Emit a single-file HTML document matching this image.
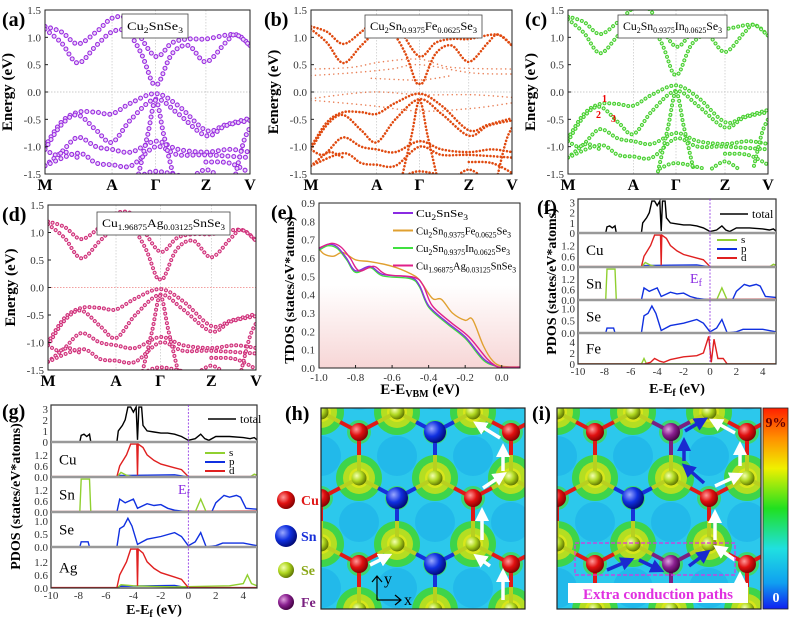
<!DOCTYPE html>
<html><head><meta charset="utf-8"><style>
html,body{margin:0;padding:0;background:#fff;width:800px;height:631px;overflow:hidden;}
svg{display:block;font-family:"Liberation Serif",serif;}
</style></head><body>
<svg id="s" width="800" height="631" viewBox="0 0 800 631" xmlns="http://www.w3.org/2000/svg"></svg>
<script>
let o='';
function cr(p){let d=`M${p[0][0].toFixed(1)},${p[0][1].toFixed(1)}`;for(let i=0;i<p.length-1;i++){const a=p[i-1]||p[i],b=p[i],c=p[i+1],e=p[i+2]||c;d+=`C${(b[0]+(c[0]-a[0])/6).toFixed(1)},${(b[1]+(c[1]-a[1])/6).toFixed(1)} ${(c[0]-(e[0]-b[0])/6).toFixed(1)},${(c[1]-(e[1]-b[1])/6).toFixed(1)} ${c[0].toFixed(1)},${c[1].toFixed(1)}`;}return d;}
function pl(p){return 'M'+p.map(q=>q[0].toFixed(1)+','+q[1].toFixed(1)).join('L');}
let cid=0;
const bandsA=[
[[0,1.2],[0.08,1.1],[0.16,0.88],[0.25,1.1],[0.327,1.35],[0.4,1.35],[0.45,1.1],[0.54,0.65],[0.62,0.9],[0.7,0.97],[0.785,0.97],[0.9,1.05],[0.95,1.02],[1,0.85]],
[[0,1.15],[0.08,0.9],[0.16,0.53],[0.25,0.85],[0.327,1.1],[0.4,1.1],[0.47,0.7],[0.52,0.2],[0.54,0.15],[0.56,0.2],[0.62,0.7],[0.7,0.85],[0.785,0.55],[0.88,0.9],[0.93,1.05],[1,0.85]],
[[0,-1.0],[0.08,-0.55],[0.16,-0.37],[0.25,-0.37],[0.327,-0.4],[0.42,-0.2],[0.54,-0.03],[0.65,-0.25],[0.785,-0.7],[0.88,-0.6],[1,-0.48]],
[[0,-1.05],[0.08,-0.6],[0.16,-0.42],[0.25,-0.7],[0.327,-0.92],[0.42,-0.5],[0.54,-0.13],[0.65,-0.4],[0.785,-0.8],[0.88,-0.62],[1,-0.52]],
[[0,-1.35],[0.08,-1.1],[0.16,-0.83],[0.25,-1.0],[0.327,-1.05],[0.42,-1.1],[0.54,-0.9],[0.65,-1.05],[0.785,-1.1],[0.9,-1.05],[1,-1.1]],
[[0,-1.35],[0.16,-1.12],[0.25,-1.3],[0.327,-1.33],[0.42,-1.35],[0.54,-1.0],[0.65,-1.15],[0.785,-1.15],[1,-1.2]],
[[0.45,-1.6],[0.5,-0.8],[0.54,-0.15],[0.58,-0.8],[0.63,-1.6]],
[[0.72,-1.55],[0.785,-1.42],[0.85,-1.55]],
[[0.46,-1.55],[0.54,-1.45],[0.68,-1.55]],
[[0.785,-1.28],[0.9,-1.3],[1,-1.48]],
[[0.93,-1.5],[0.97,-0.9],[1,-0.65]],
[[0,-1.05],[0.05,-1.15],[0.1,-1.1],[0.16,-1.2]]];
function band(x0,y0,x1,y1,col,bands,ring,title,bx0,bx1,by0,by1,ylab,letter,lx,ly,zcol,extra,tl){
 const X=t=>x0+t*(x1-x0),Y=e=>y1-(e+1.5)/3*(y1-y0);const id='c'+(cid++);
 o+=`<clipPath id="${id}"><rect x="${x0}" y="${y0}" width="${x1-x0}" height="${y1-y0}"/></clipPath>`;
 o+=`<g stroke="#bbb" stroke-width="0.6" stroke-dasharray="1.5 1.5">`;
 [0.327,0.54,0.785].forEach(t=>o+=`<line x1="${X(t)}" y1="${y0}" x2="${X(t)}" y2="${y1}"/>`);o+=`</g>`;
 o+=`<line x1="${x0}" y1="${Y(0)}" x2="${x1}" y2="${Y(0)}" stroke="${zcol}" stroke-width="0.7" stroke-dasharray="1.5 1.5"/>`;
 o+=`<g clip-path="url(#${id})" fill="none" stroke-linecap="round">`;
 const all=bands.concat(extra||[]);
 all.forEach((b,i)=>{const d=cr(b.map(q=>[X(q[0]),Y(q[1])]));const ex=i>=bands.length;const w=ring*(ex?0.6:1);
  o+=`<path d="${d}" stroke="${col}" stroke-width="${w}" stroke-dasharray="0.01 ${ex?w+3:w+0.8}" ${ex?'stroke-opacity="0.7"':''}/>`;
  if(w>3.5)o+=`<path d="${d}" stroke="#fff" stroke-width="${w-2.2}" stroke-dasharray="0.01 ${w+0.8}" stroke-opacity="0.8"/>`;});
 o+=`</g><rect x="${x0}" y="${y0}" width="${x1-x0}" height="${y1-y0}" fill="none" stroke="#222" stroke-width="1"/>`;
 for(let e=-1.5;e<=1.51;e+=0.5){o+=`<text x="${x0-4}" y="${Y(e)+4}" font-size="11" text-anchor="end" fill="#333">${e.toFixed(1)}</text><line x1="${x0}" x2="${x0+3}" y1="${Y(e)}" y2="${Y(e)}" stroke="#222"/>`;}
 [['M',0],['A',0.327],['Γ',0.54],['Z',0.785],['V',1]].forEach(k=>o+=`<text x="${X(k[1])}" y="${y1+16}" font-size="16" font-weight="bold" text-anchor="middle">${k[0]}</text>`);
 o+=`<text transform="translate(${x0-33},${(y0+y1)/2}) rotate(-90)" font-size="15" font-weight="bold" text-anchor="middle">${ylab}</text>`;
 o+=`<rect x="${bx0}" y="${by0}" width="${bx1-bx0}" height="${by1-by0}" fill="#fff" stroke="#444" stroke-width="0.8"/>`;
 o+=`<text x="${bx0+5}" y="${by1-8}" font-size="12" textLength="${tl}" lengthAdjust="spacingAndGlyphs">${title}</text>`;
 o+=`<text x="${lx}" y="${ly}" font-size="20" font-weight="bold">${letter}</text>`;
}
function ttl(parts){let s='';parts.forEach((p,i)=>{if(i%2)s+=`<tspan font-size="8" dy="3">${p}</tspan>`;else s+=`<tspan dy="${i?-3:0}">${p}</tspan>`;});return s;}
band(45,10,250,174,'#9b30e0',bandsA,5,ttl(['Cu','2','SnSe','3']),122,188,14,38,'Energy (eV)','(a)',2,26,'#bbb',null,56);
const imp=[[[0,0.42],[0.2,0.45],[0.35,0.55],[0.54,0.6],[0.7,0.45],[1,0.42]],[[0,0.3],[0.2,0.35],[0.4,0.42],[0.54,0.5],[0.8,0.35],[1,0.33]],[[0,-0.12],[0.3,0.0],[0.54,-0.05],[0.8,-0.05],[1,-0.1]],[[0,-0.15],[0.3,-0.25],[0.54,-0.35],[0.8,-0.3],[1,-0.2]],[[0.3,0.25],[0.54,0.22],[0.7,0.3]]];
band(311,10,512,174,'#e04a10',bandsA,2.6,ttl(['Cu','2','Sn','0.9375','Fe','0.0625','Se','3']),365,482,15,38,'Eenergy (eV)','(b)',264,26,'#bbb',imp,107);
const bandsC=bandsA.map((b,i)=>b.map(q=>[q[0],q[1]<0.1?q[1]+0.15:q[1]+0.18]));
band(568,10,768,174,'#48d030',bandsC,4,ttl(['Cu','2','Sn','0.9375','In','0.0625','Se','3']),618,727,15,38,'Energy (eV)','(c)',525,26,'#bbb',null,99);
band(48,205,256,370,'#d0307a',bandsA,4,ttl(['Cu','1.96875','Ag','0.03125','SnSe','3']),97,230,212,235,'Energy (eV)','(d)',2,221,'#f08080',null,123);
o+=`<text x="602" y="102" font-size="10" fill="#e00" font-weight="bold">1</text><text x="596" y="118" font-size="10" fill="#e00" font-weight="bold">2</text><text x="611" y="122" font-size="10" fill="#e00" font-weight="bold">3</text>`;

// (e)
(function(){const x0=319,x1=520,y0=203,y1=368;const X=v=>x0+(v+1)/1.1*(x1-x0),Y=v=>y1-v/0.9*(y1-y0);
o+=`<defs><linearGradient id="pk" x1="0" y1="0" x2="0" y2="1"><stop offset="0" stop-color="#fff"/><stop offset="1" stop-color="#f7d6d6"/></linearGradient></defs>`;
o+=`<rect x="${x0}" y="${Y(0.45)}" width="${x1-x0}" height="${y1-Y(0.45)}" fill="url(#pk)"/>`;
const P=[[-1,0.65],[-0.95,0.675],[-0.9,0.66],[-0.85,0.6],[-0.8,0.53],[-0.72,0.555],[-0.65,0.51],[-0.5,0.495],[-0.45,0.45],[-0.4,0.34],[-0.3,0.25],[-0.2,0.17],[-0.1,0.05],[-0.03,0.01],[0,0.003],[0.1,0.005]];
const Or=[[-1,0.65],[-0.97,0.62],[-0.92,0.61],[-0.87,0.63],[-0.8,0.59],[-0.72,0.58],[-0.6,0.555],[-0.5,0.515],[-0.45,0.48],[-0.38,0.38],[-0.33,0.375],[-0.27,0.3],[-0.2,0.26],[-0.16,0.265],[-0.1,0.12],[-0.05,0.04],[0,0.01],[0.1,0.005]];
const G=P.map(q=>[q[0],q[0]<-0.05?q[1]-0.008:q[1]]),K=P.map(q=>[q[0]<-0.05?q[0]+0.02:q[0],q[1]+(q[0]<-0.93?0.005:0)]);K[0]=[-1,0.655];
[[Or,'#e0a030'],[G,'#40e040'],[P,'#8a2be2'],[K,'#e0208a']].forEach(s=>o+=`<path d="${cr(s[0].map(q=>[X(q[0]),Y(q[1])]))}" fill="none" stroke="${s[1]}" stroke-width="1.4"/>`);
o+=`<rect x="${x0}" y="${y0}" width="${x1-x0}" height="${y1-y0}" fill="none" stroke="#222"/>`;
for(let i=0;i<=9;i++){const v=i/10;o+=`<text x="${x0-4}" y="${Y(v)+4}" font-size="11" text-anchor="end" fill="#333">${v.toFixed(1)}</text>`;}
[-1,-0.8,-0.6,-0.4,-0.2,0].forEach(v=>o+=`<text x="${X(v)}" y="${y1+13}" font-size="11" text-anchor="middle" fill="#333">${v.toFixed(1)}</text><line x1="${X(v)}" x2="${X(v)}" y1="${y1}" y2="${y1-3}" stroke="#222"/>`);
o+=`<text x="420" y="394" font-size="15" font-weight="bold" text-anchor="middle">E-E<tspan font-size="10" dy="3">VBM</tspan><tspan dy="-3"> (eV)</tspan></text>`;
o+=`<text transform="translate(294,290) rotate(-90)" font-size="14" font-weight="bold" text-anchor="middle">TDOS (states/eV*atoms)</text>`;
o+=`<text x="271" y="219" font-size="20" font-weight="bold">(e)</text>`;
const L=[['#8a2be2',ttl(['Cu','2','SnSe','3']),52],['#e0a030',ttl(['Cu','2','Sn','0.9375','Fe','0.0625','Se','3']),95],['#40e040',ttl(['Cu','2','Sn','0.9375','In','0.0625','Se','3']),94],['#e0208a',ttl(['Cu','1.96875','Ag','0.03125','SnSe','3']),100]];
L.forEach((l,i)=>{const y=213+i*17.5;o+=`<line x1="393" x2="413" y1="${y}" y2="${y}" stroke="${l[0]}" stroke-width="2"/><text x="416" y="${y+4}" font-size="11" textLength="${l[2]}" lengthAdjust="spacingAndGlyphs">${l[1]}</text>`;});
})();

// PDOS
const D={
tot:[[-10,0],[-7.9,0],[-7.8,0.6],[-7.6,0.7],[-7.4,0.5],[-7.2,0.7],[-7.1,0],[-5.2,0],[-5.1,1],[-4.8,1.5],[-4.6,2],[-4.4,3.2],[-4.2,3.2],[-4,2.7],[-3.8,3.2],[-3.7,0.2],[-3.6,3.2],[-3.4,3.2],[-3.3,1.5],[-3,1],[-2.5,0.9],[-2,0.8],[-1.5,0.8],[-1,0.7],[-0.5,0.5],[0,0.15],[0.5,0.3],[0.9,0.7],[1.2,0.3],[1.5,0.15],[2,0.5],[3,0.5],[4,0.4],[4.5,0.3],[4.8,0.4],[5,0.2]],
cud:[[-10,0.02],[-5.2,0.02],[-5,0.6],[-4.5,1.2],[-4.2,1.8],[-4,2],[-3.75,2],[-3.7,0.1],[-3.65,2],[-3.3,1.6],[-3,1.2],[-2.5,0.9],[-2,0.7],[-1,0.5],[-0.5,0.4],[0,0.02],[5,0.02]],
cus:[[-10,0],[-5.2,0],[-4.9,0.25],[-4.5,0.1],[-4,0],[4.5,0],[4.8,0.15],[5,0.1]],
cup:[[-10,0],[-5.2,0],[-5,0.08],[-3,0.1],[-1,0.12],[0,0],[5,0]],
sns:[[-10,0],[-7.9,0],[-7.8,1.8],[-7.2,1.8],[-7.1,0],[0.5,0],[0.9,0.7],[1.3,0],[5,0]],
snp:[[-10,0],[-5.2,0],[-5,0.7],[-4.6,0.5],[-4,0.7],[-3.7,0.2],[-3,0.45],[-2.5,0.35],[-2,0.4],[-1.5,0.2],[-1,0.1],[0,0],[1.7,0],[2,0.5],[2.6,0.9],[3,0.8],[3.5,0.9],[3.8,0.8],[4.2,0.2],[5,0.15]],
snd:[[-10,0.02],[5,0.05]],
sep:[[-10,0],[-7.9,0],[-7.8,0.2],[-7.3,0.2],[-7.2,0],[-5.2,0],[-5,0.7],[-4.7,0.8],[-4.4,1.1],[-4.1,0.8],[-3.7,0.1],[-3,0.3],[-2,0.4],[-1,0.55],[-0.5,0.4],[0,0.05],[0.5,0.2],[0.9,0.55],[1.3,0],[2,0.05],[2.5,0.15],[4,0.15],[5,0.05]],
fed:[[-10,0],[-5,0],[-4.5,0.3],[-4.2,1],[-3.8,0.5],[-3.5,0.3],[-3,0.8],[-2,1.3],[-1,1.5],[-0.5,2],[-0.1,5],[0.1,0.3],[0.3,4.5],[0.6,1],[1,1],[1.3,0],[5,0]],
fes:[[-10,0],[-5.2,0],[-5,1],[-4.8,0],[5,0]],
ags:[[-10,0],[-5.2,0],[-4.9,0.15],[-4,0.1],[-1,0.05],[3,0.1],[4,0.2],[4.3,0.6],[4.6,0.2],[5,0.1]]};
function pdos(x0,x1,subs,lab,lx,ly,leg,ef,xly,yl){
 const X=v=>x0+(v+10)/15*(x1-x0);const ys=subs[0].y0,ye=subs[subs.length-1].y1;
 subs.forEach(s=>{const Y=v=>s.y1-Math.min(v,s.max*1.05)/s.max*(s.y1-s.y0-2)*0.95;
  const id='c'+(cid++);o+=`<clipPath id="${id}"><rect x="${x0}" y="${s.y0}" width="${x1-x0}" height="${s.y1-s.y0}"/></clipPath><g clip-path="url(#${id})">`;
  s.ser.forEach(q=>o+=`<path d="${pl(D[q[0]].map(p=>[X(p[0]),Y(p[1])]))}" fill="none" stroke="${q[1]}" stroke-width="1.4"/>`);o+='</g>';
  o+=`<rect x="${x0}" y="${s.y0}" width="${x1-x0}" height="${s.y1-s.y0}" fill="none" stroke="#333" stroke-width="1.2"/>`;
  s.t.forEach(t=>o+=`<text x="${x0-3}" y="${Y(t[0])+4}" font-size="11" text-anchor="end" fill="#333">${t[1]}</text>`);
  if(s.n)o+=`<text x="${x0+8}" y="${(s.y0+s.y1)/2+5}" font-size="15">${s.n}</text>`;});
 for(let i=1;i<subs.length;i++)o+=`<line x1="${x0}" x2="${x1}" y1="${subs[i].y0}" y2="${subs[i].y0}" stroke="#999" stroke-width="2.5"/>`;
 o+=`<line x1="${X(0)}" x2="${X(0)}" y1="${ys}" y2="${ye}" stroke="#8a2be2" stroke-width="0.8" stroke-dasharray="2 1.5"/>`;
 [-10,-8,-6,-4,-2,0,2,4].forEach(v=>o+=`<text x="${X(v)}" y="${ye+11}" font-size="11" text-anchor="middle" fill="#333">${v}</text>`);
 o+=`<text x="${(x0+x1)/2}" y="${xly}" font-size="14" font-weight="bold" text-anchor="middle">E-E<tspan font-size="10" dy="3">f</tspan><tspan dy="-3"> (eV)</tspan></text>`;
 o+=`<text transform="translate(${yl},${(ys+ye)/2}) rotate(-90)" font-size="14" font-weight="bold" text-anchor="middle">PDOS (states/eV*atoms)</text>`;
 o+=`<text x="${lx}" y="${ly}" font-size="20" font-weight="bold">${lab}</text>`;
 o+=`<line x1="${leg[0]}" x2="${leg[0]+28}" y1="${leg[1]}" y2="${leg[1]}" stroke="#000" stroke-width="1.5"/><text x="${leg[0]+32}" y="${leg[1]+4}" font-size="12">total</text>`;
 [['s','#90d030'],['p','#1030e0'],['d','#e02020']].forEach((q,i)=>{const y=leg[3]+i*9;o+=`<line x1="${leg[2]}" x2="${leg[2]+20}" y1="${y}" y2="${y}" stroke="${q[1]}" stroke-width="2"/><text x="${leg[2]+24}" y="${y+3}" font-size="11">${q[0]}</text>`;});
 o+=`<text x="${ef[0]}" y="${ef[1]}" font-size="14" fill="#8a2be2">E<tspan font-size="10" dy="3">f</tspan></text>`;
}
const T3=[[0,'0'],[1,'1'],[2,'2'],[3,'3']],T16=[[0,'0.0'],[0.6,'0.6'],[1.2,'1.2']],T1=[[0,'0.0'],[0.5,'0.5'],[1,'1.0']],T4=[[0,'0'],[2,'2'],[4,'4']];
const cuS=[['cup','#1030e0'],['cus','#90d030'],['cud','#e02020']],snS=[['snd','#e02020'],['snp','#1030e0'],['sns','#90d030']],seS=[['sep','#1030e0']];
pdos(578,776,[{y0:199,y1:233,max:3,t:T3,ser:[['tot','#000']]},{y0:233,y1:267,max:1.7,t:T16,n:'Cu',ser:cuS},{y0:267,y1:300,max:1.7,t:T16,n:'Sn',ser:snS},{y0:300,y1:333,max:1.2,t:T1,n:'Se',ser:seS},{y0:333,y1:364,max:5,t:T4,n:'Fe',ser:[['fes','#90d030'],['fed','#e02020']]}],'(f)',537,214,[720,214,717,240],[690,283],393,556);
pdos(51,257,[{y0:405,y1:442,max:3,t:T3,ser:[['tot','#000']]},{y0:442,y1:477,max:1.7,t:T16,n:'Cu',ser:cuS},{y0:477,y1:512,max:1.7,t:T16,n:'Sn',ser:snS},{y0:512,y1:547,max:1.2,t:T1,n:'Se',ser:seS},{y0:547,y1:588,max:1.7,t:T16,n:'Ag',ser:[['cup','#1030e0'],['ags','#90d030'],['cud','#e02020']]}],'(g)',2,418,[208,419,205,453],[178,494],614,20);

// maps
o+=`<defs>`;
[['gCu','#ff9a9a','#e01010','#800000'],['gSn','#9aa8ff','#1030e0','#000870'],['gSe','#f4ffb0','#b0d820','#5a7000'],['gFe','#e0a0e0','#8a2090','#400040']].forEach(g=>o+=`<radialGradient id="${g[0]}" cx="0.35" cy="0.35" r="0.7"><stop offset="0" stop-color="${g[1]}"/><stop offset="0.5" stop-color="${g[2]}"/><stop offset="1" stop-color="${g[3]}"/></radialGradient>`);
o+=`<marker id="aw" markerWidth="4" markerHeight="4" refX="2" refY="2" orient="auto"><path d="M0,0L4,2L0,4z" fill="#fff"/></marker><marker id="ab" markerWidth="4" markerHeight="4" refX="2" refY="2" orient="auto"><path d="M0,0L4,2L0,4z" fill="#1a2ad0"/></marker>`;
o+=`<linearGradient id="cb" x1="0" y1="0" x2="0" y2="1"><stop offset="0" stop-color="#ff2000"/><stop offset="0.15" stop-color="#ff9000"/><stop offset="0.3" stop-color="#f0f000"/><stop offset="0.5" stop-color="#20e020"/><stop offset="0.7" stop-color="#20e0e0"/><stop offset="0.87" stop-color="#10a0f0"/><stop offset="1" stop-color="#1020f0"/></linearGradient></defs>`;
function map(x0,y0,w,h,fe,wa,ba){
 const id='c'+(cid++);o+=`<clipPath id="${id}"><rect x="${x0}" y="${y0}" width="${w}" height="${h}"/></clipPath><g clip-path="url(#${id})"><g transform="translate(${x0},${y0})">`;
 o+=`<rect x="0" y="0" width="${w}" height="${h}" fill="#2cc8ec"/>`;
 const se=[],me=[];
 for(let r=-1;r<5;r++){const y=4+r*66,sh=(((r%2)+2)%2===0)?0:38;for(let c=-1;c<5;c++){se.push([c*76+sh,y]);me.push([c*76+38-sh,y+20]);}}
 me.forEach(m=>{o+=`<circle cx="${m[0]}" cy="${m[1]-42}" r="20" fill="#1eb2ea" opacity="0.7"/>`;});
 me.forEach(m=>o+=`<circle cx="${m[0]}" cy="${m[1]}" r="12" fill="#3cd670"/>`);
 se.forEach(s=>o+=`<circle cx="${s[0]}" cy="${s[1]}" r="23" fill="#3ed44a"/>`);
 se.forEach(s=>o+=`<circle cx="${s[0]}" cy="${s[1]}" r="16" fill="#b4de22"/><circle cx="${s[0]}" cy="${s[1]}" r="10" fill="#d8e61c"/>`);
 const type=m=>{const x=m[0],y=m[1];
   if(Math.abs(x-114)<3&&(Math.abs(y-24)<3||Math.abs(y-156)<3))return fe?'Fe':'Sn';
   if(Math.abs(x-76)<3&&Math.abs(y-90)<3)return 'Sn';
   if(Math.abs(x-114)<3&&Math.abs(y+42)<3)return 'Sn';
   return 'Cu';};
 const col={Cu:'#e01818',Sn:'#1830d8',Fe:'#7a2080'},rad={Cu:9,Sn:11,Fe:9};
 me.forEach(m=>{const t=type(m);[[m[0]-38,m[1]-20],[m[0]+38,m[1]-20],[m[0],m[1]+46]].forEach(n=>{const mx=(m[0]+n[0])/2,my=(m[1]+n[1])/2;o+=`<line x1="${m[0]}" y1="${m[1]}" x2="${mx}" y2="${my}" stroke="${col[t]}" stroke-width="4"/><line x1="${mx}" y1="${my}" x2="${n[0]}" y2="${n[1]}" stroke="#b8d020" stroke-width="4"/>`;});});
 se.forEach(s=>o+=`<circle cx="${s[0]}" cy="${s[1]}" r="7.5" fill="url(#gSe)"/>`);
 me.forEach(m=>{const t=type(m);o+=`<circle cx="${m[0]}" cy="${m[1]}" r="${rad[t]}" fill="url(#g${t})"/>`;});
 wa.forEach(a=>o+=`<line x1="${a[0]}" y1="${a[1]}" x2="${a[2]}" y2="${a[3]}" stroke="#fff" stroke-width="3.5" marker-end="url(#aw)"/>`);
 (ba||[]).forEach(a=>o+=`<line x1="${a[0]}" y1="${a[1]}" x2="${a[2]}" y2="${a[3]}" stroke="#1a2ad0" stroke-width="3.5" marker-end="url(#ab)"/>`);
 o+=`</g></g><rect x="${x0}" y="${y0}" width="${w}" height="${h}" fill="none" stroke="#222" stroke-width="1.2"/>`;
}
map(321,408,204,201,false,[[182,192,182,167],[169,158,158,150],[161,132,161,106],[162,80,180,68],[182,63,182,42],[179,30,158,17],[49,157,65,149]]);
o+=`<path d="M377,600L377,576M372,582L377,576L382,582M377,600L401,600M395,595L401,600L395,605" stroke="#000" stroke-width="1.2" fill="none"/><text x="384" y="584" font-size="16">y</text><text x="404" y="605" font-size="16">x</text>`;
map(557,408,204,201,true,[[183,188,183,170],[178,152,162,141],[158,132,158,108],[158,78,180,68],[183,58,183,40],[178,25,158,14]],[[50,162,71,153],[82,152,101,161],[132,158,148,146],[147,75,130,60],[127,53,127,36],[128,23,145,13]]);
o+=`<rect x="575" y="543" width="160" height="32" fill="none" stroke="#e030e0" stroke-width="1.2" stroke-dasharray="4 2"/>`;
o+=`<rect x="568" y="583" width="180" height="20" fill="#fff"/><text x="658" y="599" font-size="15" font-weight="bold" fill="#e030e0" text-anchor="middle">Extra conduction paths</text>`;
o+=`<rect x="763" y="408" width="25" height="201" fill="url(#cb)" stroke="#222" stroke-width="0.8"/><text x="776" y="427" font-size="14" font-weight="bold" fill="#600" text-anchor="middle">9%</text><text x="776" y="602" font-size="14" font-weight="bold" fill="#fff" text-anchor="middle">0</text>`;
o+=`<text x="285" y="420" font-size="20" font-weight="bold">(h)</text><text x="532" y="420" font-size="20" font-weight="bold">(i)</text>`;
[['Cu',500,9],['Sn',536,11],['Se',570,8],['Fe',602,8]].forEach(a=>{const c={Cu:'#e01818',Sn:'#1830d8',Se:'#8aa818',Fe:'#7a2080'}[a[0]];o+=`<circle cx="286" cy="${a[1]}" r="${a[2]}" fill="url(#g${a[0]})"/><text x="301" y="${a[1]+5}" font-size="14" font-weight="bold" fill="${c}">${a[0]}</text>`;});
document.getElementById('s').innerHTML=o;
</script>
</body></html>
